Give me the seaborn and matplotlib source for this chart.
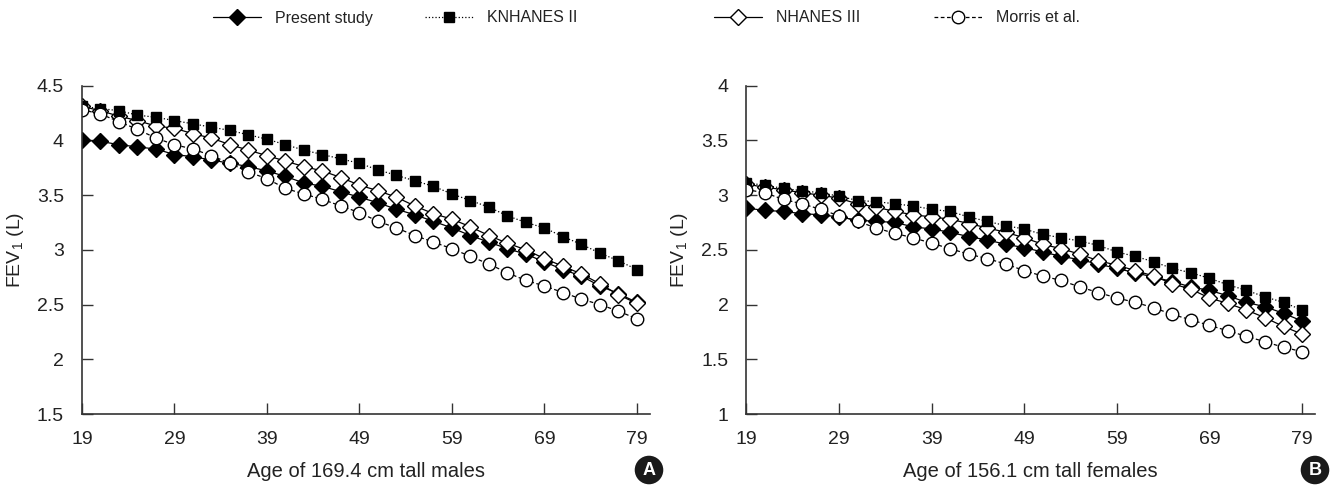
"""
    FEV1 by age: present study vs reference equations
"""

import pandas as pd
import matplotlib.pyplot as plt
import seaborn as sns

ages = list(range(19, 80, 2))

series_names = ["Present study", "KNHANES II", "NHANES III", "Morris et al."]

# males, 169.4 cm
male_present = [4.00, 3.99, 3.96, 3.94, 3.92, 3.87, 3.85, 3.82, 3.79, 3.76, 3.72,
                3.67, 3.61, 3.58, 3.53, 3.48, 3.43, 3.37, 3.32, 3.26, 3.20, 3.13,
                3.07, 3.01, 2.96, 2.89, 2.82, 2.76, 2.67, 2.60, 2.52]
male_knhanes = [4.31, 4.29, 4.27, 4.23, 4.21, 4.18, 4.15, 4.12, 4.09, 4.05, 4.01,
                3.96, 3.91, 3.87, 3.83, 3.79, 3.73, 3.68, 3.63, 3.58, 3.51, 3.45,
                3.39, 3.31, 3.25, 3.20, 3.12, 3.05, 2.97, 2.90, 2.82]
male_nhanes = [4.31, 4.27, 4.22, 4.18, 4.13, 4.11, 4.06, 4.02, 3.96, 3.91, 3.86,
               3.81, 3.76, 3.72, 3.66, 3.59, 3.54, 3.48, 3.40, 3.33, 3.28, 3.21,
               3.13, 3.06, 3.00, 2.92, 2.85, 2.78, 2.69, 2.59, 2.51]
male_morris = [4.28, 4.24, 4.17, 4.10, 4.02, 3.96, 3.92, 3.86, 3.79, 3.71, 3.65,
               3.56, 3.51, 3.46, 3.40, 3.34, 3.26, 3.20, 3.13, 3.07, 3.01, 2.94,
               2.87, 2.79, 2.72, 2.67, 2.61, 2.55, 2.50, 2.44, 2.37]

# females, 156.1 cm
female_present = [2.88, 2.86, 2.85, 2.83, 2.82, 2.80, 2.77, 2.76, 2.75, 2.71, 2.69,
                  2.66, 2.62, 2.59, 2.55, 2.52, 2.48, 2.44, 2.41, 2.37, 2.33, 2.29,
                  2.25, 2.21, 2.16, 2.13, 2.08, 2.02, 1.98, 1.92, 1.85]
female_knhanes = [3.11, 3.09, 3.06, 3.04, 3.02, 2.99, 2.95, 2.94, 2.92, 2.90, 2.87,
                  2.85, 2.80, 2.76, 2.72, 2.69, 2.64, 2.61, 2.58, 2.54, 2.48, 2.44,
                  2.39, 2.33, 2.29, 2.24, 2.18, 2.13, 2.07, 2.02, 1.95]
female_nhanes = [3.10, 3.07, 3.05, 3.02, 3.00, 2.97, 2.92, 2.89, 2.85, 2.82, 2.80,
                 2.78, 2.74, 2.70, 2.66, 2.61, 2.55, 2.51, 2.46, 2.40, 2.36, 2.31,
                 2.26, 2.19, 2.14, 2.06, 2.01, 1.95, 1.88, 1.80, 1.73]
female_morris = [3.05, 3.02, 2.96, 2.92, 2.87, 2.81, 2.76, 2.70, 2.65, 2.61, 2.56,
                 2.51, 2.46, 2.42, 2.37, 2.31, 2.26, 2.22, 2.16, 2.11, 2.06, 2.02,
                 1.97, 1.91, 1.86, 1.81, 1.76, 1.71, 1.66, 1.61, 1.57]

x_ticks = [19, 29, 39, 49, 59, 69, 79]
male_yticks = [1.5, 2, 2.5, 3, 3.5, 4, 4.5]
female_yticks = [1, 1.5, 2, 2.5, 3, 3.5, 4]

# marker, face colour, line style, size; drawn in this order
styles = {
    "Present study": ("D", "black", "-", 8),
    "NHANES III": ("D", "white", "-", 8),
    "KNHANES II": ("s", "black", ":", 7.5),
    "Morris et al.": ("o", "white", (0, (3, 2)), 9),
}

sns.set_style("ticks")
plt.rcParams["font.family"] = ["Liberation Sans", "DejaVu Sans"]
plt.rcParams["mathtext.fontset"] = "custom"
plt.rcParams["mathtext.rm"] = "Liberation Sans"
plt.rcParams["mathtext.it"] = "Liberation Sans"

fig = plt.figure(figsize=(13.33, 4.86), dpi=100)
ax_m = fig.add_axes([0.0615, 0.148, 0.426, 0.676])
ax_f = fig.add_axes([0.560, 0.148, 0.4265, 0.676])


def make_frame(present, knhanes, nhanes, morris):
    """long table for one panel"""
    vals = {"Present study": present, "KNHANES II": knhanes,
            "NHANES III": nhanes, "Morris et al.": morris}
    rows = []
    for name in series_names:
        for a, v in zip(ages, vals[name]):
            rows.append({"age": a, "fev": v, "series": name})
    return pd.DataFrame(rows)


def draw_panel(ax, df, yticks, xlabel):
    """draw the four curves and dress the axes"""
    for name, (mk, fc, ls, ms) in styles.items():
        sub = df[df["series"] == name]
        sns.lineplot(data=sub, x="age", y="fev", ax=ax, color="black",
                     linestyle=ls, linewidth=0.9, marker=mk, markersize=ms,
                     markerfacecolor=fc, markeredgecolor="black",
                     markeredgewidth=1.0, label=name, legend=False)
    ax.set_xlim(19, 80.4)
    ax.set_ylim(yticks[0], yticks[-1])
    ax.set_xticks(x_ticks)
    ax.set_xticklabels([str(t) for t in x_ticks])
    ax.set_yticks(yticks)
    ax.set_yticklabels([f"{t:g}" for t in yticks])
    ax.tick_params(direction="in", length=8, width=1, color="#333333",
                   labelsize=14, labelcolor="#222222")
    ax.tick_params(axis="x", pad=12)
    ax.tick_params(axis="y", pad=13)
    ax.set_xlabel(xlabel, fontsize=14.5, color="#222222", labelpad=10)
    ax.set_ylabel("FEV$_1$ (L)", fontsize=14, color="#222222", labelpad=8)
    for side in ["top", "right"]:
        ax.spines[side].set_visible(False)
    for side in ["left", "bottom"]:
        ax.spines[side].set_linewidth(1.2)
        ax.spines[side].set_color("#333333")


draw_panel(ax_m, make_frame(male_present, male_knhanes, male_nhanes, male_morris),
           male_yticks, "Age of 169.4 cm tall males")
draw_panel(ax_f, make_frame(female_present, female_knhanes, female_nhanes, female_morris),
           female_yticks, "Age of 156.1 cm tall females")

# legend: one entry per slot along the top
handles, labels = ax_m.get_legend_handles_labels()
lookup = dict(zip(labels, handles))
legend_x = [213, 425, 714, 934]
for name, xpos in zip(series_names, legend_x):
    leg = fig.legend([lookup[name]], [name], loc="center left",
                     bbox_to_anchor=(xpos / 1333, 1 - 18 / 486),
                     frameon=False, fontsize=11.5, handlelength=3.0,
                     handletextpad=0.9, borderaxespad=0, borderpad=0)
    for t in leg.get_texts():
        t.set_color("#222222")

# panel badges
for letter, xpos in [("A", 649), ("B", 1315)]:
    fig.text(xpos / 1333, 1 - 470 / 486, letter, ha="center", va="center",
             fontsize=13, fontweight="bold", color="white",
             bbox=dict(boxstyle="circle,pad=0.32", fc="#1a1a1a", ec="none"))

fig.savefig("out.png", dpi=100)
